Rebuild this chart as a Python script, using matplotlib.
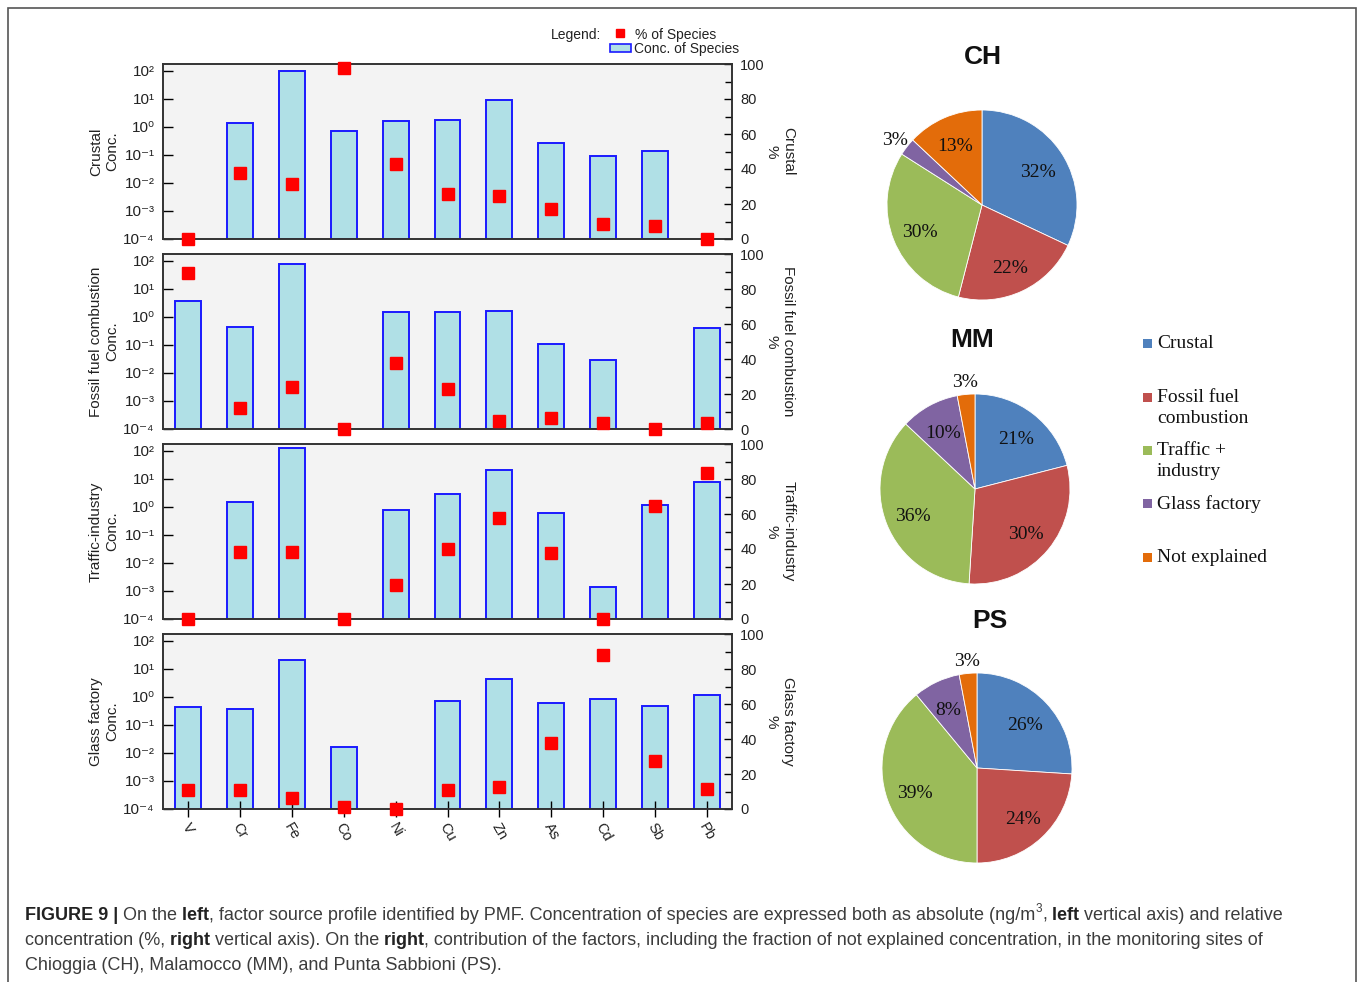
import numpy as np
import matplotlib
matplotlib.use('Agg')
import matplotlib.pyplot as plt
from matplotlib.patches import Rectangle
from matplotlib.lines import Line2D
from matplotlib.ticker import LogLocator, MultipleLocator, NullLocator, FuncFormatter

plt.rcParams['font.family'] = ['Liberation Sans', 'DejaVu Sans']
plt.rcParams['mathtext.default'] = 'regular'

W, H = 1357, 982
nan = np.nan

# PMF factor profiles
species = ['V', 'Cr', 'Fe', 'Co', 'Ni', 'Cu', 'Zn', 'As', 'Cd', 'Sb', 'Pb']
factors = ['Crustal', 'Fossil fuel combustion', 'Traffic-industry', 'Glass factory']

# concentration of species (ng/m3), nan where the factor has no contribution
conc_crustal = [nan, 1.35, 100, 0.72, 1.6, 1.78, 9.2, 0.26, 0.095, 0.14, nan]
conc_fossil = [3.7, 0.44, 75, nan, 1.5, 1.5, 1.7, 0.105, 0.030, nan, 0.39]
conc_traffic = [nan, 1.5, 123, nan, 0.8, 2.8, 21, 0.59, 0.0014, 1.2, 7.6]
conc_glass = [0.43, 0.38, 21, 0.016, nan, 0.74, 4.5, 0.59, 0.87, 0.49, 1.17]

# % of species explained by each factor
pct_crustal = [0, 38, 31.5, 98, 43, 25.8, 24.4, 17.4, 8.8, 7.6, 0]
pct_fossil = [89, 12.2, 23.8, 0, 37.9, 22.9, 4.6, 6.5, 3.6, 0, 3.6]
pct_traffic = [0, 38.3, 38.3, 0, 19.2, 40, 57.5, 37.9, 0, 64.6, 83.2]
pct_glass = [10.9, 10.9, 6.5, 1.3, 0, 10.9, 12.8, 37.5, 88, 27.2, 11.6]

# factor contributions at the three sites
sources = ['Crustal', 'Fossil fuel\ncombustion', 'Traffic +\nindustry',
           'Glass factory', 'Not explained']
source_colors = ['#4f81bd', '#c0504d', '#9bbb59', '#8064a2', '#e36c0a']
sites = ['CH', 'MM', 'PS']
contrib_ch = [32, 22, 30, 3, 13]
contrib_mm = [21, 30, 36, 10, 3]
contrib_ps = [26, 24, 39, 8, 3]

BAR_FACE = '#b0e0e6'
BAR_EDGE = '#1a1aff'
TXT = '#222222'

SUP = str.maketrans('-0123456789', '⁻⁰¹²³⁴⁵⁶⁷⁸⁹')


def pow10_label(v, pos):
    return '10' + str(int(round(np.log10(v)))).translate(SUP)


def px_rect(x0, y0, w, h):
    # pixel box (top-left origin) -> figure fraction rect
    return [x0 / W, 1 - (y0 + h) / H, w / W, h / H]


fig = plt.figure(figsize=(W / 100, H / 100), dpi=100)

profiles = [(conc_crustal, pct_crustal), (conc_fossil, pct_fossil),
            (conc_traffic, pct_traffic), (conc_glass, pct_glass)]
x = np.arange(len(species))

for i, (name, (conc, pct)) in enumerate(zip(factors, profiles)):
    top = 64 + 190 * i
    ax = fig.add_axes(px_rect(163, top, 569, 175))
    ax.set_facecolor('#f3f3f3')
    ax.set_yscale('log')
    conc = np.array(conc)
    m = ~np.isnan(conc)
    ax.bar(x[m], conc[m] - 1e-4, bottom=1e-4, width=0.5, color=BAR_FACE,
           edgecolor=BAR_EDGE, linewidth=1.4)
    ax.set_ylim(1e-4, 10 ** 2.25)
    ax.set_xlim(-0.48, 10.48)
    ax.yaxis.set_major_locator(LogLocator(base=10, numticks=10))
    ax.yaxis.set_minor_locator(NullLocator())
    ax.yaxis.set_major_formatter(FuncFormatter(pow10_label))
    ax.tick_params(axis='y', direction='in', length=7, width=1,
                   labelsize=11, labelcolor=TXT, pad=6)
    ax.set_xticks(x)
    if i == 3:
        ax.set_xticklabels(species, rotation=-60, ha='center', va='top',
                           fontsize=10.5, color=TXT)
        ax.tick_params(axis='x', direction='inout', length=12, width=1, pad=2)
    else:
        ax.tick_params(axis='x', length=0, labelbottom=False)
    ax.set_ylabel(f'{name}\nConc.', fontsize=11, color=TXT, labelpad=3)

    ax2 = ax.twinx()
    ax2.plot(x, pct, 's', color='#ff0000', ms=8.5, clip_on=False, zorder=5)
    ax2.set_ylim(0, 100)
    ax2.yaxis.set_major_locator(MultipleLocator(20))
    ax2.yaxis.set_minor_locator(MultipleLocator(10))
    ax2.tick_params(axis='y', which='both', direction='in', width=1,
                    labelsize=10.5, labelcolor=TXT, pad=6)
    ax2.tick_params(axis='y', which='major', length=6)
    ax2.tick_params(axis='y', which='minor', length=5)
    ax2.set_ylabel(f'{name}\n%', rotation=270, va='bottom', fontsize=11,
                   color=TXT, labelpad=0)
    for a in (ax, ax2):
        for s in a.spines.values():
            s.set_linewidth(1.2)
            s.set_color('#333333')

# legend above the profiles
fig.text(551 / W, 1 - 35 / H, 'Legend:', fontsize=10, color=TXT, va='center')
fig.add_artist(Line2D([620 / W], [1 - 33 / H], marker='s', color='#ff0000',
                      ms=6, ls='none', transform=fig.transFigure))
fig.text(635 / W, 1 - 35 / H, '% of Species', fontsize=10, color=TXT,
         va='center')
fig.add_artist(Rectangle((610 / W, 1 - 52 / H), 21 / W, 8 / H,
                         facecolor=BAR_FACE, edgecolor=BAR_EDGE, lw=1.2,
                         transform=fig.transFigure))
fig.text(634 / W, 1 - 49 / H, 'Conc. of Species', fontsize=10, color=TXT,
         va='center')

# pies
serif = ['Liberation Serif', 'DejaVu Serif']
pie_centers = [(982, 205), (975, 489), (977, 768)]
title_pos = [(983, 57), (972, 340), (990, 621)]
for site, vals, (cx, cy), (tx, ty) in zip(sites, [contrib_ch, contrib_mm, contrib_ps],
                                          pie_centers, title_pos):
    pax = fig.add_axes(px_rect(cx - 130, cy - 130, 260, 260))
    wedges, _ = pax.pie(vals, colors=source_colors, startangle=90,
                        counterclock=False, radius=0.95,
                        wedgeprops=dict(edgecolor='white', linewidth=0.6))
    pax.set_xlim(-1.3, 1.3)
    pax.set_ylim(-1.3, 1.3)
    pax.set_aspect('equal')
    pax.axis('off')
    for w, v in zip(wedges, vals):
        ang = np.deg2rad((w.theta1 + w.theta2) / 2)
        r = 0.95 * (1.16 if v <= 3 else 0.70)
        pax.text(r * np.cos(ang), r * np.sin(ang) - 0.03, f'{v}%', ha='center',
                 va='center', fontsize=14, family=serif, color='#111111')
    fig.text(tx / W, 1 - ty / H, site, ha='center', va='center',
             fontsize=19, fontweight='bold', color='#111111')

# pie legend
leg_y = [343, 397, 450, 503, 557]
for lab, col, y in zip(sources, source_colors, leg_y):
    fig.add_artist(Rectangle((1143 / W, 1 - (y + 5) / H), 9 / W, 9 / H,
                             facecolor=col, edgecolor='none',
                             transform=fig.transFigure))
    fig.text(1157 / W, 1 - (y - 8) / H, lab, ha='left', va='top',
             fontsize=14, family=serif, color='#111111', linespacing=1.3)

# outer frame
fig.add_artist(Rectangle((8 / W, -0.02), 1348 / W, 1 - 8 / H + 0.02,
                         fill=False, edgecolor='#555555', lw=1.2,
                         transform=fig.transFigure))

# caption with mixed weights
renderer = fig.canvas.get_renderer()
cap_color = '#3c3c3c'
lines = [
    [('FIGURE 9 |', 'bold', 0), (' On the', 'normal', 0), (' left', 'bold', 0),
     (', factor source profile identified by PMF. Concentration of species are '
      'expressed both as absolute (ng/m', 'normal', 0), ('3', 'normal', 1),
     (',', 'normal', 0), (' left', 'bold', 0),
     (' vertical axis) and relative', 'normal', 0)],
    [('concentration (%,', 'normal', 0), (' right', 'bold', 0),
     (' vertical axis). On the', 'normal', 0), (' right', 'bold', 0),
     (', contribution of the factors, including the fraction of not explained '
      'concentration, in the monitoring sites of', 'normal', 0)],
    [('Chioggia (CH), Malamocco (MM), and Punta Sabbioni (PS).', 'normal', 0)],
]
cap_size = 13
for k, segs in enumerate(lines):
    xp = 25.0
    yb = 920 + 25 * k
    for txt, wt, sup in segs:
        size = cap_size * (0.65 if sup else 1)
        yy = yb - (8 if sup else 0)
        t = fig.text(xp / W, 1 - yy / H, txt, fontsize=size, fontweight=wt,
                     color='#222222' if wt == 'bold' else cap_color,
                     ha='left', va='baseline')
        xp += t.get_window_extent(renderer).width

fig.savefig('out.png', dpi=100)
plt.close(fig)
